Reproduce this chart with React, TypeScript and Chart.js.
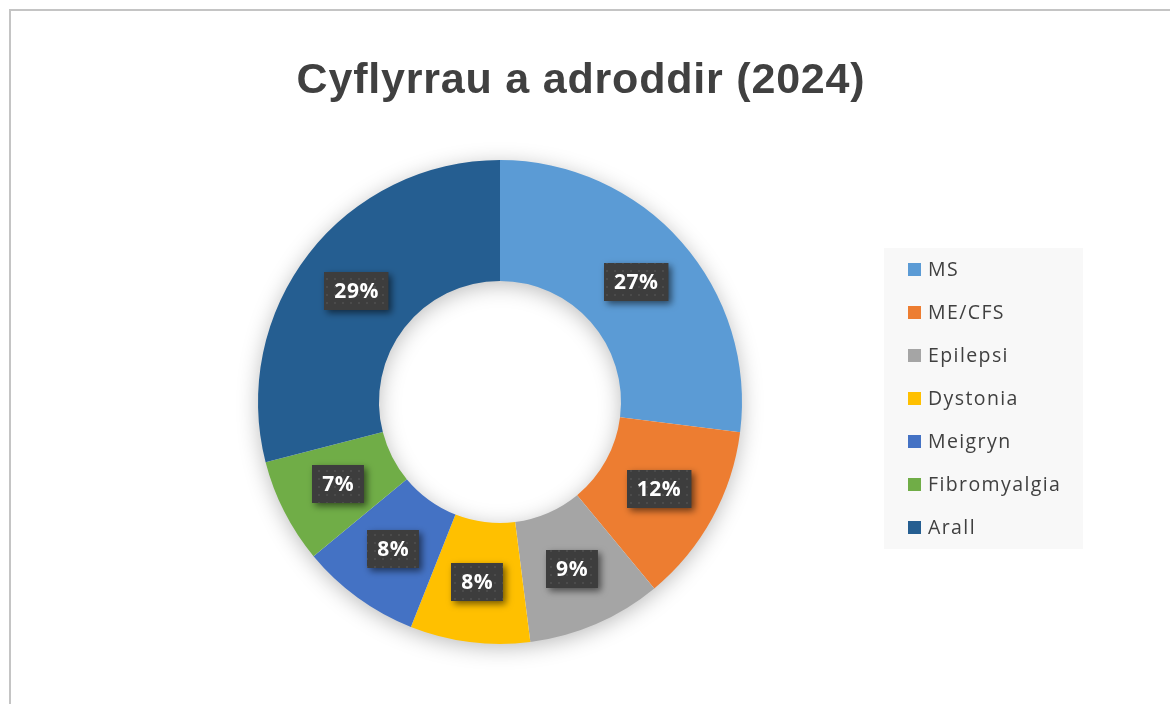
import React, { useEffect, useRef } from "react";
import { Chart, registerables } from "chart.js";

Chart.register(...registerables);

const TITLE = "Cyflyrrau a adroddir (2024)";
const categories = ["MS", "ME/CFS", "Epilepsi", "Dystonia", "Meigryn", "Fibromyalgia", "Arall"];
const shares = [27, 12, 9, 8, 8, 7, 29];
const colors = ["#5B9BD5", "#ED7D31", "#A5A5A5", "#FFC000", "#4472C4", "#70AD47", "#255E91"];

const FONT = "'Open Sans', 'Noto Sans', sans-serif";
const TITLE_FONT = "'Liberation Sans', Arial, sans-serif";

function makePattern(ctx: CanvasRenderingContext2D) {
  const c = document.createElement("canvas");
  c.width = 8;
  c.height = 8;
  const p = c.getContext("2d")!;
  p.fillStyle = "#3d3d3d";
  p.fillRect(0, 0, 8, 8);
  p.fillStyle = "#4b4b4b";
  p.fillRect(3, 3, 2, 2);
  return ctx.createPattern(c, "repeat")!;
}

const titlePlugin = {
  id: "titleText",
  afterDraw(chart: any) {
    const ctx = chart.ctx as any;
    ctx.save();
    ctx.font = `bold 43px ${TITLE_FONT}`;
    ctx.letterSpacing = "0.8px";
    ctx.fillStyle = "#404040";
    ctx.textAlign = "center";
    ctx.textBaseline = "alphabetic";
    ctx.fillText(TITLE, 570, 82);
    ctx.restore();
  },
};

const ringShadow = {
  id: "ringShadow",
  beforeDatasetsDraw(chart: any) {
    const meta = chart.getDatasetMeta(0);
    const arc = meta.data[0];
    if (!arc) return;
    const { x, y, outerRadius, innerRadius } = arc.getProps(["x", "y", "outerRadius", "innerRadius"], true);
    const ctx = chart.ctx;
    ctx.save();
    ctx.shadowColor = "rgba(0,0,0,0.28)";
    ctx.shadowBlur = 22;
    ctx.shadowOffsetX = 0;
    ctx.shadowOffsetY = 4;
    ctx.beginPath();
    ctx.arc(x, y, outerRadius - 1, 0, Math.PI * 2);
    ctx.arc(x, y, innerRadius + 1, 0, Math.PI * 2, true);
    ctx.closePath();
    ctx.fillStyle = "#ffffff";
    ctx.fill();
    ctx.restore();
  },
};

const boxLabels = {
  id: "boxLabels",
  afterDatasetsDraw(chart: any) {
    const ctx = chart.ctx as any;
    const meta = chart.getDatasetMeta(0);
    const data = chart.data.datasets[0].data as number[];
    const pattern = makePattern(ctx);
    meta.data.forEach((arc: any, i: number) => {
      const pos = arc.tooltipPosition(true);
      const text = data[i] + "%";
      ctx.save();
      ctx.font = `bold 21px ${FONT}`;
      ctx.letterSpacing = "0.5px";
      const w = ctx.measureText(text).width + 20;
      const h = 38;
      const bx = Math.round(pos.x - w / 2);
      const by = Math.round(pos.y - h / 2);
      ctx.shadowColor = "rgba(0,0,0,0.55)";
      ctx.shadowBlur = 7;
      ctx.shadowOffsetX = 3;
      ctx.shadowOffsetY = 3;
      ctx.fillStyle = pattern;
      ctx.fillRect(bx, by, w, h);
      ctx.shadowColor = "transparent";
      ctx.fillStyle = "#ffffff";
      ctx.textAlign = "center";
      ctx.textBaseline = "middle";
      ctx.fillText(text, pos.x, pos.y + 1);
      ctx.restore();
    });
  },
};

const boxLegend = {
  id: "boxLegend",
  afterDraw(chart: any) {
    const ctx = chart.ctx as any;
    const labels = chart.data.labels as string[];
    const bg = chart.data.datasets[0].backgroundColor as string[];
    const left = 873;
    const top = 237;
    const width = 199;
    const height = 301;
    ctx.save();
    ctx.fillStyle = "#f8f8f8";
    ctx.fillRect(left, top, width, height);
    ctx.font = `19.5px ${FONT}`;
    ctx.letterSpacing = "1.4px";
    ctx.textBaseline = "middle";
    ctx.textAlign = "left";
    labels.forEach((lab, i) => {
      const cy = top + 21 + i * 43;
      ctx.fillStyle = bg[i];
      ctx.fillRect(left + 24, cy - 6, 13, 13);
      ctx.fillStyle = "#404040";
      ctx.fillText(lab, left + 44, cy + 1);
    });
    ctx.restore();
  },
};

export default function App() {
  const ref = useRef<HTMLCanvasElement>(null);
  useEffect(() => {
    document.body.style.overflow = "hidden";
    const chart = new Chart(ref.current!, {
      type: "doughnut",
      data: {
        labels: categories,
        datasets: [
          {
            data: shares,
            backgroundColor: colors,
            borderWidth: 0,
          },
        ],
      },
      options: {
        animation: false,
        responsive: false,
        maintainAspectRatio: false,
        cutout: "50%",
        layout: { padding: { left: 247, right: 428, bottom: 60, top: 149 } },
        plugins: {
          legend: { display: false },
          tooltip: { enabled: false },
          title: { display: false },
        },
      },
      plugins: [ringShadow, boxLabels, boxLegend, titlePlugin],
    });
    return () => chart.destroy();
  }, []);
  return (
    <div
      style={{
        position: "absolute",
        left: 9,
        top: 9,
        width: 1159,
        height: 693,
        borderTop: "2px solid #c4c4c4",
        borderLeft: "2px solid #c4c4c4",
        background: "#ffffff",
      }}
    >
      <canvas ref={ref} width={1159} height={693} style={{ display: "block" }} />
    </div>
  );
}
